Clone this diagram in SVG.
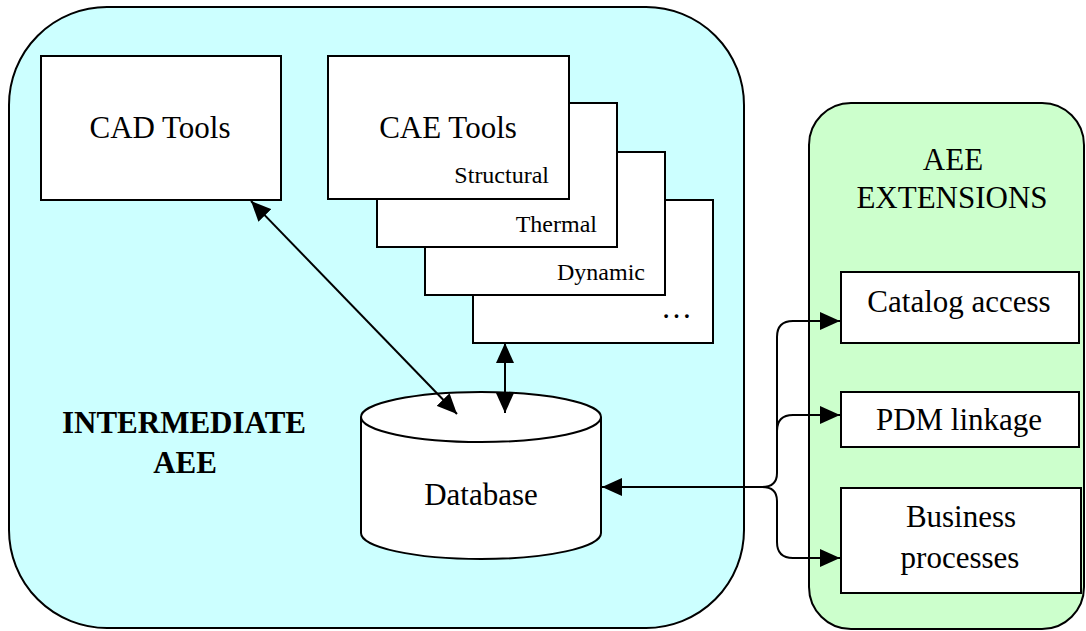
<svg xmlns="http://www.w3.org/2000/svg" width="1086" height="631" viewBox="0 0 1086 631">
<style>
.box{fill:#ffffff;stroke:#000;stroke-width:2}
.t{font-family:"Liberation Serif","Times New Roman",serif;font-size:31px;fill:#000}
.s{font-family:"Liberation Serif","Times New Roman",serif;font-size:24px;fill:#000}
.b{font-family:"Liberation Serif","Times New Roman",serif;font-size:31px;font-weight:bold;fill:#000}
.c{fill:none;stroke:#000;stroke-width:2}
</style>
<defs>
<marker id="ah" markerUnits="userSpaceOnUse" markerWidth="20" markerHeight="18" refX="20" refY="9" orient="auto-start-reverse" viewBox="0 0 20 18">
<path d="M0,0 L20,9 L0,18 z" fill="#000"/>
</marker>
</defs>
<g id="intermediate-aee">
<rect x="9" y="7" width="735" height="621" rx="98" ry="98" fill="#CCFFFF" stroke="#000" stroke-width="2"/>
<text class="b" x="184" y="433" text-anchor="middle">INTERMEDIATE</text>
<text class="b" x="185" y="473" text-anchor="middle">AEE</text>
</g>
<g id="aee-extensions">
<rect x="809" y="103" width="275" height="526" rx="42" ry="42" fill="#CCFFCC" stroke="#000" stroke-width="2"/>
<text class="t" x="953" y="170" text-anchor="middle">AEE</text>
<text class="t" x="952" y="208" text-anchor="middle">EXTENSIONS</text>
</g>
<g id="cad-tools">
<rect class="box" x="41" y="56" width="240" height="144"/>
<text class="t" x="160" y="138" text-anchor="middle">CAD Tools</text>
</g>
<g id="cae-more">
<rect class="box" x="473" y="200" width="240" height="143"/>
<text class="t" x="692" y="318" text-anchor="end">…</text>
</g>
<g id="cae-dynamic">
<rect class="box" x="425" y="152" width="240" height="143"/>
<text class="s" x="645" y="280" text-anchor="end">Dynamic</text>
</g>
<g id="cae-thermal">
<rect class="box" x="377" y="103" width="240" height="144"/>
<text class="s" x="597" y="232" text-anchor="end">Thermal</text>
</g>
<g id="cae-tools">
<rect class="box" x="328" y="56" width="241" height="143"/>
<text class="t" x="448" y="138" text-anchor="middle">CAE Tools</text>
<text class="s" x="549" y="183" text-anchor="end">Structural</text>
</g>
<g id="database">
<path d="M361,417 V533 A120,26 0 0 0 601,533 V417" fill="#fff" stroke="#000" stroke-width="2"/>
<ellipse cx="481" cy="417" rx="120" ry="25" fill="#fff" stroke="#000" stroke-width="2"/>
<text class="t" x="481" y="505" text-anchor="middle">Database</text>
</g>
<g id="catalog-access">
<rect class="box" x="841" y="272" width="238" height="71"/>
<text class="t" x="959" y="312" text-anchor="middle">Catalog access</text>
</g>
<g id="pdm-linkage">
<rect class="box" x="841" y="392" width="238" height="55"/>
<text class="t" x="959" y="430" text-anchor="middle">PDM linkage</text>
</g>
<g id="business-processes">
<rect class="box" x="841" y="488" width="240" height="105"/>
<text class="t" x="961" y="527" text-anchor="middle">Business</text>
<text class="t" x="960" y="568" text-anchor="middle">processes</text>
</g>
<g id="connectors">
<path class="c" d="M251,201 L457,414" marker-start="url(#ah)" marker-end="url(#ah)"/>
<path class="c" d="M505,343 L505,413" marker-start="url(#ah)" marker-end="url(#ah)"/>
<path class="c" d="M602,487 H762" marker-start="url(#ah)"/>
<path class="c" d="M840,321 H793 Q777,321 777,337 V473 Q777,487 762,487 Q777,487 777,501 V542 Q777,558 793,558 H840" marker-start="url(#ah)" marker-end="url(#ah)"/>
<path class="c" d="M777,431 Q777,415 793,415 H840" marker-end="url(#ah)"/>
</g>
</svg>
